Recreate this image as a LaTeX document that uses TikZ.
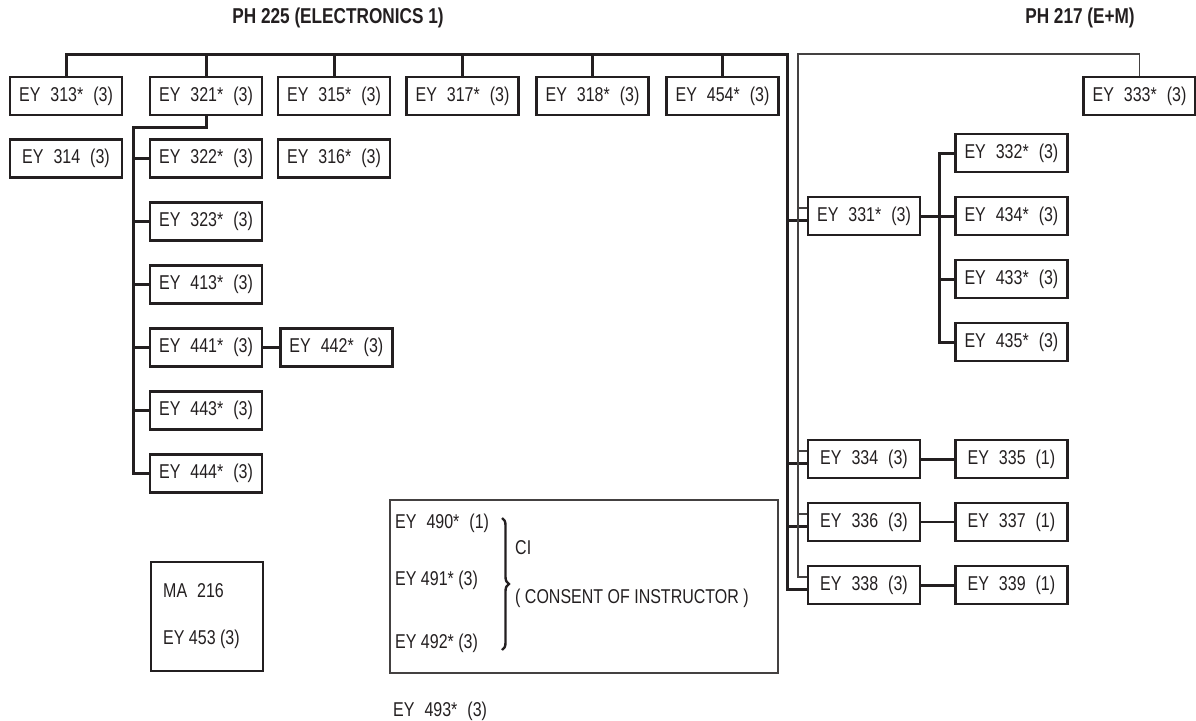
\documentclass[tikz,border=0pt]{standalone}
\usepackage{fontspec}
\setmainfont{Liberation Sans}[FakeStretch=0.8]
\newfontfamily\crsfont{Liberation Sans}[FakeStretch=0.8, WordSpace=2.25]
\usepackage{tikz}
\usetikzlibrary{positioning, decorations.pathreplacing}
\definecolor{ink}{RGB}{35,31,32}
\tikzset{
  course/.style   = {draw=ink, line width=2.4pt, minimum width=112pt,
                     minimum height=38pt, inner sep=0pt, text=ink,
                     font=\crsfont\fontsize{20}{24}\selectfont},
  txt/.style      = {inner sep=0pt, anchor=west, text=ink,
                     font=\fontsize{20}{24}\selectfont},
  wtxt/.style     = {txt, font=\crsfont\fontsize{20}{24}\selectfont},
  heading/.style  = {text=ink, font=\bfseries\fontsize{21.5}{26}\selectfont},
  cibox/.style    = {draw=ink!85, line width=1.2pt, minimum width=388pt,
                     minimum height=173pt},
  bus/.style      = {draw=ink, line width=3pt},
  minorbus/.style = {draw=ink!85, line width=1.2pt},
  curly/.style    = {draw=ink, line width=2.4pt,
                     decorate, decoration={brace, amplitude=7pt}}
}

\begin{document}
\begin{tikzpicture}[x=1pt, y=-1pt, node distance=22.6pt]
  \useasboundingbox (0,0) rectangle (1196,720);

  \node[heading] (ph225) at (338,18) {PH 225 (ELECTRONICS 1)};
  \node[heading] (ph217) at (1080,18) {PH 217 (E+M)};

  % first row
  \node[course] (e313) at (66,96)    {EY 313* (3)};
  \node[course] (e321) at (206,96)   {EY 321* (3)};
  \node[course] (e315) at (334,96)   {EY 315* (3)};
  \node[course] (e317) at (462.5,96) {EY 317* (3)};
  \node[course] (e318) at (592.5,96) {EY 318* (3)};
  \node[course] (e454) at (722.5,96) {EY 454* (3)};
  \node[course] (e333) at (1139.5,96) {EY 333* (3)};

  \node[course, below=22pt of e313] (e314) {EY 314 (3)};
  \node[course, below=22pt of e315] (e316) {EY 316* (3)};
  \node[course, below=22pt of e321] (e322) {EY 322* (3)};
  \node[course, below=of e322] (e323) {EY 323* (3)};
  \node[course, below=of e323] (e413) {EY 413* (3)};
  \node[course, below=of e413] (e441) {EY 441* (3)};
  \node[course, below=of e441] (e443) {EY 443* (3)};
  \node[course, below=of e443] (e444) {EY 444* (3)};
  \node[course, right=16pt of e441] (e442) {EY 442* (3)};

  % right side
  \node[course] (e331) at (864,216) {EY 331* (3)};
  \node[course, right=33pt of e331] (e434) {EY 434* (3)};
  \node[course, above=of e434] (e332) {EY 332* (3)};
  \node[course, below=of e434] (e433) {EY 433* (3)};
  \node[course, below=of e433] (e435) {EY 435* (3)};

  \node[course] (e334) at (864,459) {EY 334 (3)};
  \node[course, below=of e334] (e336) {EY 336 (3)};
  \node[course, below=of e336] (e338) {EY 338 (3)};
  \node[course, right=33pt of e334] (e335) {EY 335 (1)};
  \node[course, right=33pt of e336] (e337) {EY 337 (1)};
  \node[course, right=33pt of e338] (e339) {EY 339 (1)};

  % PH 225 tree
  \coordinate (bus225) at (787,54);
  \draw[bus] (e313.north) |- (bus225) |- ([yshift=-4pt]e338.west);
  \foreach \c in {e321,e315,e317,e318,e454}
    \draw[bus] (\c.north) -- (\c.north |- bus225);
  \foreach \c in {e331,e334,e336}
    \draw[bus] ([yshift=-4pt]\c.west) -- ++(-21pt,0);

  % PH 217 tree
  \coordinate (bus217) at (798,54);
  \draw[minorbus] (e333.north) |- (bus217) |- ([yshift=8pt]e338.west);
  \foreach \c in {e331,e334,e336}
    \draw[minorbus] ([yshift=8pt]\c.west) -- ++(-10pt,0);

  \draw[bus] (e321.south) -- ++(0,-11pt) -| ([xshift=-15pt]e444.west) -- (e444.west);
  \foreach \c in {e322,e323,e413,e441,e443}
    \draw[bus] (\c.west) -- ++(-15pt,0);
  \draw[bus] (e441) -- (e442);

  \draw[bus] (e331) -- (e434);
  \draw[bus] (e332.west) -- ++(-15pt,0) |- (e435.west);
  \draw[bus] (e433.west) -- ++(-15pt,0);

  \draw[bus] (e334) -- (e335);
  \draw[bus, line width=2pt] (e336) -- (e337);
  \draw[bus] (e338) -- (e339);

  % consent of instructor
  \node[cibox] (ci) at (584,586.5) {};
  \node[wtxt] (e490) at (395,523) {EY 490* (1)};
  \node[txt] (e491) at (395,580) {EY 491* (3)};
  \node[txt] (e492) at (395,643) {EY 492* (3)};
  \coordinate (bracetop) at (502,518);
  \coordinate (bracebot) at (502,650);
  \draw[curly] (bracetop) -- (bracebot);
  \node[txt] (cinote) at (515,548) {CI};
  \node[txt] (consent) at (515,598) {( CONSENT OF INSTRUCTOR )};
  \node[wtxt] (e493) at (393,711) {EY 493* (3)};

  \node[course, minimum height=109pt] (ma) at (207,616.5) {};
  \node[wtxt] (ma216) at (163,591) {MA 216};
  \node[txt] (e453) at (163,639) {EY 453 (3)};
\end{tikzpicture}
\end{document}
